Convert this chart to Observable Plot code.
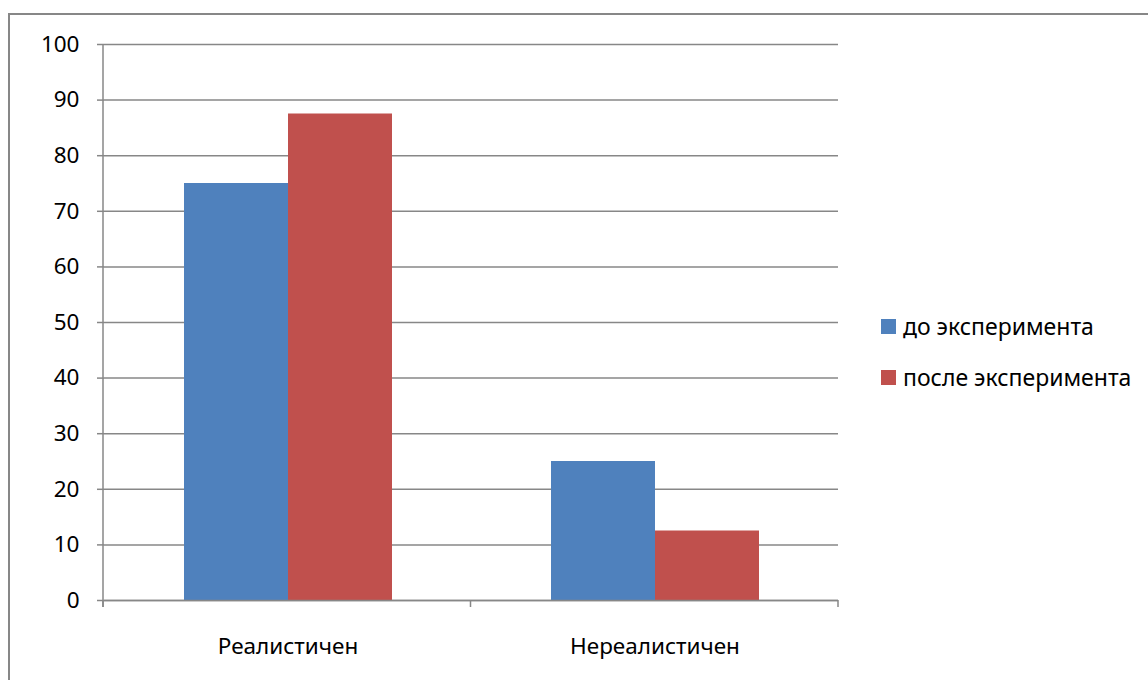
<!DOCTYPE html>
<html>
<head>
<meta charset="utf-8">
<script src="https://cdn.jsdelivr.net/npm/d3@7"></script>
<script src="https://cdn.jsdelivr.net/npm/@observablehq/plot@0.6"></script>
<style>
  html, body { margin: 0; padding: 0; background: #fff; overflow: hidden; }
  #wrap { position: relative; width: 1148px; height: 680px; overflow: hidden; font-family: "Noto Sans", "Open Sans", sans-serif; }
  #border { position: absolute; left: 8px; top: 13px; width: 1200px; height: 800px; border: 2px solid #878787; box-sizing: border-box; }
  #chart { position: absolute; left: 0; top: 0; }
  #legend { position: absolute; left: 881px; top: 314px; }
  .item { display: flex; align-items: center; height: 24px; margin-bottom: 27px; font-size: 23px; color: #000; white-space: nowrap; }
  .sw { width: 15px; height: 15px; margin-right: 7px; flex: none; }
</style>
</head>
<body>
<div id="wrap">
  <div id="border"></div>
  <div id="chart"></div>
  <div id="legend"></div>
</div>
<script>
const categories = ["Реалистичен", "Нереалистичен"];
const series = ["до эксперимента", "после эксперимента"];
const beforeValues = [75, 25];
const afterValues = [87.5, 12.5];
const seriesColors = ["#4F81BD", "#C0504D"];
const yTicks = [0, 10, 20, 30, 40, 50, 60, 70, 80, 90, 100];

const data = categories.flatMap((c, i) => [
  {category: c, series: series[0], value: beforeValues[i]},
  {category: c, series: series[1], value: afterValues[i]}
]);

const gridColor = "#878787";

const plot = Plot.plot({
  width: 1148,
  height: 680,
  marginTop: 44,
  marginLeft: 103,
  marginRight: 310,
  marginBottom: 80,
  style: {fontFamily: '"Noto Sans", "Open Sans", sans-serif', fontSize: "22.5px", color: "#000", background: "transparent", overflow: "visible"},
  fx: {domain: categories, padding: 0, label: null},
  x: {domain: series, paddingInner: 0, paddingOuter: 0.75, axis: null},
  y: {domain: [0, 100], label: null},
  color: {domain: series, range: seriesColors},
  marks: [
    Plot.gridY(yTicks, {stroke: gridColor, strokeOpacity: 1, strokeWidth: 1.5}),
    Plot.barY(data, {fx: "category", x: "series", y: "value", fill: "series"}),
    Plot.ruleY([0], {stroke: gridColor, strokeWidth: 1.5}),
    Plot.axisY(yTicks, {tickSize: 7, tickPadding: 18, stroke: gridColor, strokeWidth: 1.5, fill: "#000", label: null}),
    Plot.axisFx({anchor: "bottom", tickSize: 0, tickPadding: 38, fill: "#000", label: null})
  ]
});
document.getElementById("chart").appendChild(plot);

// axis line and category boundary ticks, from Plot's scales
const fxS = plot.scale("fx");
const yS = plot.scale("y");
const fx = d3.scaleBand().domain(fxS.domain).range(fxS.range).padding(0);
const y = d3.scaleLinear().domain(yS.domain).range(yS.range);
const bounds = fxS.domain.map(c => fx(c)).concat([fx(fxS.domain[fxS.domain.length - 1]) + fx.bandwidth()]);
const svg = d3.select(plot.tagName.toLowerCase() === "svg" ? plot : plot.querySelector("svg"));
const g = svg.append("g").attr("stroke", gridColor).attr("stroke-width", 1.5);
g.append("line").attr("x1", bounds[0]).attr("x2", bounds[0]).attr("y1", y(100)).attr("y2", y(0) + 7);
g.selectAll(".bt").data(bounds).join("line")
  .attr("x1", d => d).attr("x2", d => d).attr("y1", y(0)).attr("y2", y(0) + 7);

// legend
const legend = d3.select("#legend");
series.forEach((s, i) => {
  const item = legend.append("div").attr("class", "item");
  item.append("div").attr("class", "sw").style("background", seriesColors[i]);
  item.append("span").text(s);
});
</script>
</body>
</html>
